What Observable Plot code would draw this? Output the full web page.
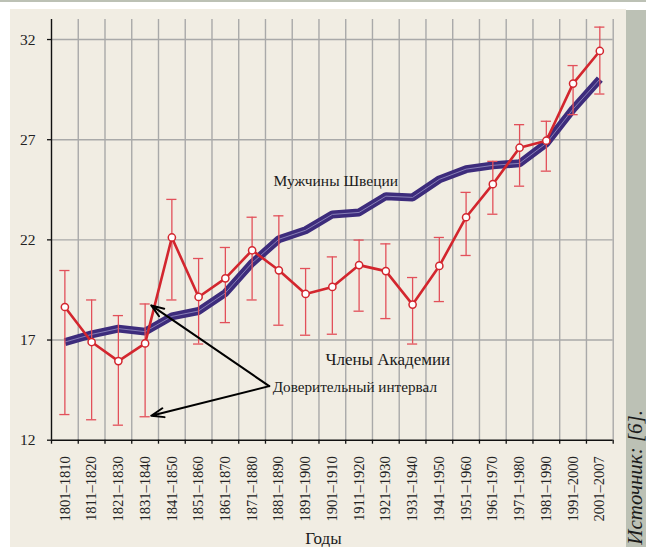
<!DOCTYPE html>
<html>
<head>
<meta charset="utf-8">
<script src="https://cdn.jsdelivr.net/npm/d3@7"></script>
<script src="https://cdn.jsdelivr.net/npm/@observablehq/plot@0.6"></script>
<style>
  html, body { margin: 0; padding: 0; background: #ffffff; overflow: hidden; }
  #wrap { position: relative; width: 646px; height: 547px; }
  .bg { position: absolute; }
  #chart { position: absolute; left: 0; top: 0; }
  #chart svg, #chart svg text { font-family: "Liberation Serif", "DejaVu Serif", serif; }
</style>
</head>
<body>
<div id="wrap">
  <div class="bg" style="left:0;top:0;width:646px;height:2px;background:#bcc1b5"></div>
  <div class="bg" style="left:10px;top:9px;width:616px;height:538px;background:#f1ede3"></div>
  <div class="bg" style="left:626px;top:10px;width:20px;height:537px;background:#bcc1b5"></div>
  <div id="chart"></div>
</div>
<script>
const decades = ["1801–1810","1811–1820","1821–1830","1831–1840","1841–1850","1851–1860","1861–1870","1871–1880","1881–1890","1891–1900","1901–1910","1911–1920","1921–1930","1931–1940","1941–1950","1951–1960","1961–1970","1971–1980","1981–1990","1991–2000","2001–2007"];
const academy   = [18.65,16.9,15.95,16.83,22.12,19.15,20.08,21.48,20.48,19.3,19.65,20.74,20.44,18.77,20.7,23.13,24.78,26.6,26.95,29.8,31.43];
const academyHi = [20.47,19.0,18.22,18.8,24.02,21.07,21.62,23.13,23.2,20.57,21.15,21.99,21.8,20.12,22.12,24.37,25.92,27.75,27.92,30.7,32.62];
const academyLo = [13.28,13.02,12.75,13.17,19.0,16.8,17.87,19.0,17.74,17.24,17.29,18.44,18.07,16.8,18.92,21.22,23.28,24.68,25.43,28.25,29.28];
const sweden    = [16.9,17.28,17.57,17.42,18.18,18.45,19.35,20.85,22.03,22.48,23.27,23.37,24.18,24.12,25.02,25.53,25.72,25.82,26.82,28.53,30.02];
const yTicks = [12,17,22,27,32];
const seriesLabels = ["Мужчины Швеции","Члены Академии"];
const ciLabel = "Доверительный интервал";
const xLabel = "Годы";
const sourceLabel = "Источник: [6].";

const data = decades.map((d, i) => ({i, d, pos: i + 0.5, a: academy[i], lo: academyLo[i], hi: academyHi[i], s: sweden[i]}));
const n = decades.length;
const red = "#d3262e";
const errRed = "#e2505a";
const grid = "#a9a9a9";
const serif = "Liberation Serif";

const chart = Plot.plot({
  width: 646,
  height: 547,
  marginLeft: 51,
  marginRight: 33.3,
  marginTop: 19,
  marginBottom: 107.3,
  style: {background: "transparent", fontFamily: "'Liberation Serif', serif", overflow: "visible"},
  x: {type: "linear", domain: [0, n]},
  y: {domain: [12, 33]},
  marks: [
    // grid
    Plot.ruleX(d3.range(1, n + 1), {y1: 12, y2: 33, stroke: grid, strokeWidth: 1.4}),
    Plot.ruleY(yTicks.slice(1), {x1: 0, x2: n, stroke: grid, strokeWidth: 1.4}),
    // axes
    Plot.ruleX([0], {y1: 12, y2: 33, stroke: "#111", strokeWidth: 1.4}),
    Plot.ruleY([12], {x1: 0, x2: n, stroke: "#111", strokeWidth: 1.4}),
    Plot.axisX({ticks: d3.range(0, n + 1), tickSize: 4, tickFormat: () => "", stroke: "#111", strokeWidth: 1.3}),
    Plot.axisY({ticks: yTicks, tickSize: 4, tickPadding: 12, fontSize: 15.5, fontFamily: serif, stroke: "#111", strokeWidth: 1.3, fill: "#222"}),
    Plot.text(data, {x: "pos", y: 12, text: "d", rotate: -90, textAnchor: "end", lineAnchor: "middle", dy: 16, fontSize: 14.5, fontFamily: serif, fill: "#222"}),
    // Swedish men
    Plot.line(data, {x: "pos", y: "s", stroke: "#3d2c7c", strokeWidth: 8, strokeLinejoin: "miter", strokeLinecap: "butt"}),
    Plot.line(data, {x: "pos", y: "s", stroke: "#9189bd", strokeWidth: 0.9, strokeLinejoin: "miter"}),
    // confidence interval
    Plot.ruleX(data, {x: "pos", y1: "lo", y2: "hi", stroke: errRed, strokeWidth: 1.3}),
    Plot.ruleY(data, {y: "hi", x1: d => d.pos - 0.19, x2: d => d.pos + 0.19, stroke: errRed, strokeWidth: 1.3}),
    Plot.ruleY(data, {y: "lo", x1: d => d.pos - 0.19, x2: d => d.pos + 0.19, stroke: errRed, strokeWidth: 1.3}),
    // academy
    Plot.line(data, {x: "pos", y: "a", stroke: red, strokeWidth: 2.6}),
    Plot.dot(data, {x: "pos", y: "a", r: 3.6, fill: "white", stroke: red, strokeWidth: 1.5}),
    // annotations
    Plot.text([seriesLabels[0]], {x: 8.3, y: 24.94, textAnchor: "start", lineAnchor: "middle", fontSize: 15.5, fontFamily: serif, fill: "#1a1a1a"}),
    Plot.text([seriesLabels[1]], {x: 10.24, y: 16.05, textAnchor: "start", lineAnchor: "middle", fontSize: 17, fontFamily: serif, fill: "#1a1a1a"}),
    Plot.text([ciLabel], {x: 8.27, y: 14.64, textAnchor: "start", lineAnchor: "middle", fontSize: 15.2, fontFamily: serif, fill: "#1a1a1a"}),
    Plot.arrow([{x1: 8.14, y1: 14.7, x2: 3.73, y2: 18.73}, {x1: 8.14, y1: 14.7, x2: 3.73, y2: 13.22}],
      {x1: "x1", y1: "y1", x2: "x2", y2: "y2", stroke: "#000", strokeWidth: 2, headLength: 10, headAngle: 40}),
    // axis label and source
    Plot.text([xLabel], {frameAnchor: "bottom", dx: -9, dy: 98, lineAnchor: "middle", fontSize: 17, fontFamily: serif, fill: "#1a1a1a"}),
    Plot.text([sourceLabel], {frameAnchor: "bottom-right", dx: 29, dy: 104.5, rotate: -90, textAnchor: "start", lineAnchor: "bottom", fontSize: 21, fontStyle: "italic", fontFamily: serif, fill: "#1a1a1a"})
  ]
});
document.getElementById("chart").appendChild(chart);
</script>
</body>
</html>
